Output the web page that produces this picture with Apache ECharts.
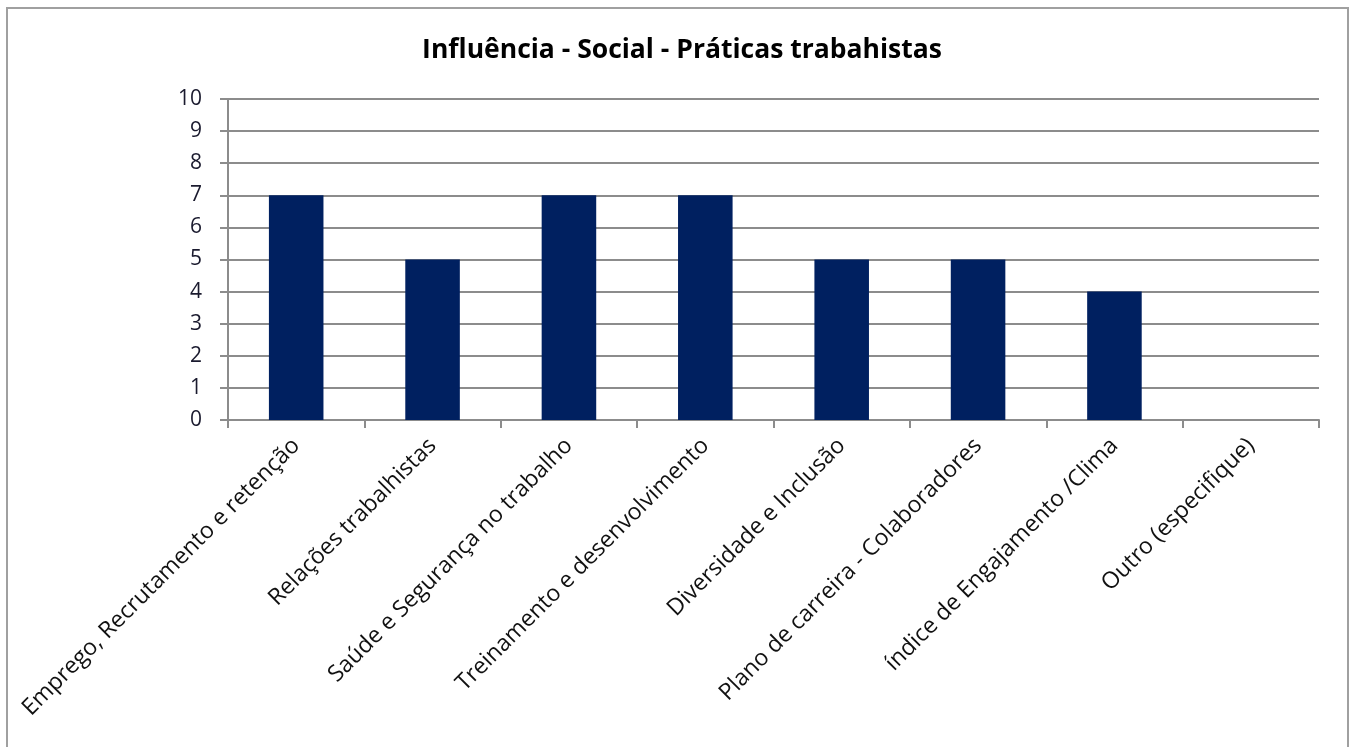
<!DOCTYPE html>
<html>
<head>
<meta charset="utf-8">
<script src="https://cdn.jsdelivr.net/npm/echarts@6/dist/echarts.min.js"></script>
<style>
  html, body { margin: 0; padding: 0; background: #fff; }
  #frame {
    position: absolute; left: 6px; top: 7px; width: 1343px; height: 760px;
    border: 2px solid #a0a0a0; box-sizing: border-box;
  }
  #chart { position: absolute; left: 0; top: 0; width: 1354px; height: 747px; }
</style>
</head>
<body>
<div id="frame"></div>
<div id="chart"></div>
<script>
const chartTitle = "Influência - Social - Práticas trabahistas";
const categories = [
  "Emprego, Recrutamento e retenção",
  "Relações trabalhistas",
  "Saúde e Segurança no trabalho",
  "Treinamento e desenvolvimento",
  "Diversidade e Inclusão",
  "Plano de carreira - Colaboradores",
  "índice de Engajamento /Clima",
  "Outro (especifique)"
];
const values = [7, 5, 7, 7, 5, 5, 4, 0];

const chart = echarts.init(document.getElementById("chart"));
chart.setOption({
  backgroundColor: "transparent",
  animation: false,
  title: {
    text: chartTitle,
    left: 677,
    textAlign: "center",
    top: 32,
    textStyle: {
      fontFamily: "Open Sans",
      fontWeight: "bold",
      fontSize: 26.5,
      color: "#000"
    }
  },
  grid: {
    left: 228,
    right: 35,
    top: 99,
    bottom: 327
  },
  xAxis: {
    type: "category",
    data: categories,
    axisLine: { lineStyle: { color: "#8c8c8c", width: 2 } },
    axisTick: { show: true, length: 8, lineStyle: { color: "#8c8c8c", width: 2 } },
    axisLabel: {
      rotate: 45,
      interval: 0,
      margin: 22,
      fontFamily: "Open Sans",
      fontSize: 23,
      color: "#111"
    }
  },
  yAxis: {
    type: "value",
    min: 0,
    max: 10,
    interval: 1,
    axisLine: { show: true, lineStyle: { color: "#8c8c8c", width: 2 } },
    axisTick: { show: true, length: 8, lineStyle: { color: "#8c8c8c", width: 2 } },
    axisLabel: {
      margin: 26,
      fontFamily: "Open Sans",
      fontSize: 21,
      color: "#1a1a2e"
    },
    splitLine: { lineStyle: { color: "#8c8c8c", width: 2 } }
  },
  series: [{
    type: "bar",
    data: values,
    barWidth: "40%",
    itemStyle: { color: "#002060" }
  }]
});
</script>
</body>
</html>
